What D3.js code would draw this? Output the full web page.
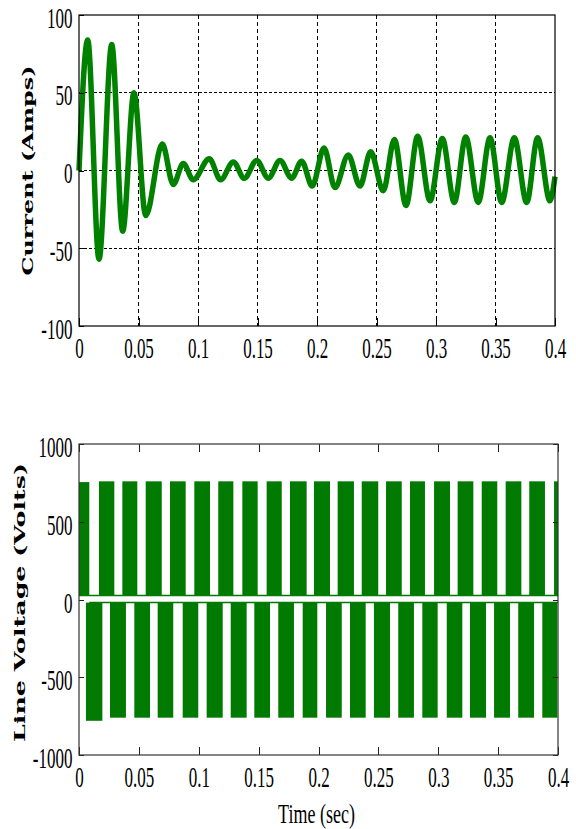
<!DOCTYPE html>
<html>
<head>
<meta charset="utf-8">
<script src="https://cdn.jsdelivr.net/npm/d3@7/dist/d3.min.js"></script>
<style>
  html, body { margin: 0; padding: 0; background: #fff; }
  svg { display: block; }
  .tick-label { font-family: "Liberation Serif", "Times New Roman", serif; font-size: 17px; fill: #000; }
  .axis-title { font-family: "DejaVu Serif", "Liberation Serif", serif; font-weight: bold; font-size: 14px; fill: #000; }
  .x-title { font-family: "Liberation Serif", "Times New Roman", serif; font-size: 18px; fill: #000; }
</style>
</head>
<body>
<svg id="chart" width="576" height="829"></svg>
<script>
// ---- Time axis (shared) ----
const timeTicks = [0, 0.05, 0.1, 0.15, 0.2, 0.25, 0.3, 0.35, 0.4];
const timeTickLabels = ["0", "0.05", "0.1", "0.15", "0.2", "0.25", "0.3", "0.35", "0.4"];

// ---- Current waveform: turning points (time in s, current in A) ----
const currentTime = [
  0, 0.0073, 0.0168, 0.0275, 0.0367, 0.0462, 0.0561, 0.0700, 0.0792, 0.0876,
  0.0960, 0.1095, 0.1190, 0.1297, 0.1389, 0.1493, 0.1591, 0.1689, 0.1787, 0.1871,
  0.1960, 0.2059, 0.2151, 0.2263, 0.2361, 0.2451, 0.2557, 0.2650, 0.2748, 0.2846,
  0.2950, 0.3053, 0.3154, 0.3250, 0.3355, 0.3454, 0.3552, 0.3658, 0.3762, 0.3854,
  0.3958, 0.4
];
const currentAmps = [
  0, 84, -57, 81, -39, 50, -29, 17, -9, 4.5,
  -6, 7.5, -6, 5.5, -5, 6.5, -5, 6.5, -5, 6,
  -10, 14.5, -11, 10, -10, 12, -13, 20, -22.5, 22,
  -19.5, 20.5, -20.5, 21.5, -20.5, 21, -20.5, 21, -20.5, 21,
  -19.5, -4
];
const currentTicks = [-100, -50, 0, 50, 100];
const currentTickLabels = ["-100", "-50", "0", "50", "100"];

// ---- Line voltage: switching envelopes (start/end time in s, level in V) ----
const posStart = [0, 0.0167, 0.0362, 0.0557, 0.0760, 0.0963, 0.1163, 0.1364, 0.1567, 0.1762,
  0.1962, 0.2160, 0.2361, 0.2564, 0.2764, 0.2965, 0.3162, 0.3363, 0.3563, 0.3760, 0.3967];
const posEnd = [0.0086, 0.0295, 0.0487, 0.0691, 0.0891, 0.1094, 0.1289, 0.1492, 0.1693, 0.1901,
  0.2096, 0.2296, 0.2499, 0.2695, 0.2889, 0.3098, 0.3293, 0.3493, 0.3694, 0.3891, 0.4];
const posPeak = [755, 760, 760, 760, 760, 760, 760, 760, 760, 760,
  760, 760, 760, 760, 760, 760, 760, 760, 760, 760, 760];
const negStart = [0.0058, 0.0259, 0.0462, 0.0657, 0.0866, 0.1066, 0.1267, 0.1464, 0.1664, 0.1868,
  0.2063, 0.2263, 0.2463, 0.2666, 0.2867, 0.3071, 0.3265, 0.3466, 0.3668, 0.3869];
const negEnd = [0.0195, 0.0392, 0.0593, 0.0787, 0.0996, 0.1200, 0.1400, 0.1595, 0.1795, 0.1990,
  0.2194, 0.2394, 0.2597, 0.2797, 0.2995, 0.3201, 0.3399, 0.3599, 0.3800, 0.3994];
const negPeak = [-780, -760, -760, -760, -760, -760, -760, -760, -760, -760,
  -760, -760, -760, -760, -760, -760, -760, -760, -760, -760];
const posBase = 25;   // low level of the positive switching band
const negBase = -20;  // high level of the negative switching band
const voltTicks = [-1000, -500, 0, 500, 1000];
const voltTickLabels = ["-1000", "-500", "0", "500", "1000"];

const svg = d3.select("#chart");
const GREEN_LINE = "#008200";
const GREEN_FILL = "#007a00";

// stretched serif tick text
function styleLabels(axisG, labels, opts) {
  axisG.selectAll(".tick text")
    .text((d, i) => labels[i])
    .attr("class", "tick-label")
    .attr("x", null).attr("y", null).attr("dy", null)
    .attr("text-anchor", opts.anchor)
    .attr("transform", `translate(${opts.dx},${opts.dy}) scale(1,1.7)`)
    .style("font-size", null).style("font-family", null);
}

function tidyAxis(axisG, stroke) {
  axisG.attr("font-size", null).attr("font-family", null);
  axisG.select(".domain").remove();
  axisG.selectAll(".tick line").attr("stroke", stroke).attr("stroke-width", 1)
    .attr("shape-rendering", "crispEdges");
}

// ================= Current plot =================
const p1 = { left: 79, right: 555, top: 15, bottom: 326 };
const x1 = d3.scaleLinear().domain([0, 0.4]).range([p1.left, p1.right]);
const y1 = d3.scaleLinear().domain([-100, 100]).range([p1.bottom, p1.top]);

const g1 = svg.append("g");
// grid
g1.append("g").selectAll("line").data(timeTicks.slice(1, -1)).join("line")
  .attr("x1", d => x1(d)).attr("x2", d => x1(d))
  .attr("y1", p1.top).attr("y2", p1.bottom)
  .attr("stroke", "#000").attr("stroke-width", 1).attr("stroke-dasharray", "4,3")
  .attr("shape-rendering", "crispEdges");
g1.append("g").selectAll("line").data(currentTicks.slice(1, -1)).join("line")
  .attr("x1", p1.left).attr("x2", p1.right)
  .attr("y1", d => y1(d)).attr("y2", d => y1(d))
  .attr("stroke", "#000").attr("stroke-width", 1).attr("stroke-dasharray", "3,2")
  .attr("shape-rendering", "crispEdges");

// trace
const currentData = currentTime.map((t, i) => ({ t, v: currentAmps[i] }));
g1.append("path").datum(currentData)
  .attr("d", d3.line().x(d => x1(d.t)).y(d => y1(d.v)).curve(d3.curveMonotoneX))
  .attr("fill", "none").attr("stroke", GREEN_LINE).attr("stroke-width", 5.5)
  .attr("stroke-linejoin", "round");

// axes
const ax1 = g1.append("g").attr("transform", `translate(0,${p1.bottom})`)
  .call(d3.axisBottom(x1).tickValues(timeTicks).tickSize(-8));
tidyAxis(ax1, "#000");
styleLabels(ax1, timeTickLabels, { anchor: "middle", dx: 0, dy: 32 });
const ay1 = g1.append("g").attr("transform", `translate(${p1.left},0)`)
  .call(d3.axisLeft(y1).tickValues(currentTicks).tickSize(-5));
tidyAxis(ay1, "#000");
styleLabels(ay1, currentTickLabels, { anchor: "end", dx: -6.5, dy: 12 });

g1.append("rect").attr("x", p1.left).attr("y", p1.top)
  .attr("width", p1.right - p1.left).attr("height", p1.bottom - p1.top)
  .attr("fill", "none").attr("stroke", "#000").attr("stroke-width", 1.2);

g1.append("text").attr("class", "axis-title")
  .attr("transform", `translate(33,${(p1.top + p1.bottom) / 2}) rotate(-90)`)
  .attr("text-anchor", "middle")
  .attr("textLength", 210).attr("lengthAdjust", "spacingAndGlyphs")
  .text("Current (Amps)");

// ================= Line voltage plot =================
const p2 = { left: 79, right: 558, top: 444, bottom: 755 };
const x2 = d3.scaleLinear().domain([0, 0.4]).range([p2.left, p2.right]);
const y2 = d3.scaleLinear().domain([-1000, 1000]).range([p2.bottom, p2.top]);

const g2 = svg.append("g");

// zero-level traces joining the switching bands
g2.append("line").attr("x1", x2(0)).attr("x2", x2(0.4))
  .attr("y1", y2(posBase)).attr("y2", y2(posBase))
  .attr("stroke", GREEN_FILL).attr("stroke-width", 1.5);
g2.append("line").attr("x1", x2(posEnd[0])).attr("x2", x2(0.4))
  .attr("y1", y2(negBase)).attr("y2", y2(negBase))
  .attr("stroke", GREEN_FILL).attr("stroke-width", 1.5);

const posBlocks = posStart.map((s, i) => ({ s, e: posEnd[i], hi: posPeak[i], lo: posBase }));
const negBlocks = negStart.map((s, i) => ({ s, e: negEnd[i], hi: negBase, lo: negPeak[i] }));
g2.append("g").selectAll("rect").data(posBlocks.concat(negBlocks)).join("rect")
  .attr("x", d => x2(d.s)).attr("width", d => x2(d.e) - x2(d.s))
  .attr("y", d => y2(d.hi)).attr("height", d => y2(d.lo) - y2(d.hi))
  .attr("fill", GREEN_FILL);

const ax2 = g2.append("g").attr("transform", `translate(0,${p2.bottom})`)
  .call(d3.axisBottom(x2).tickValues(timeTicks).tickSize(-8));
tidyAxis(ax2, "#222");
styleLabels(ax2, timeTickLabels, { anchor: "middle", dx: 0, dy: 32 });
const ax2top = g2.append("g").attr("transform", `translate(0,${p2.top})`)
  .call(d3.axisTop(x2).tickValues(timeTicks).tickSize(-8).tickFormat(""));
tidyAxis(ax2top, "#222");
const ay2 = g2.append("g").attr("transform", `translate(${p2.left},0)`)
  .call(d3.axisLeft(y2).tickValues(voltTicks).tickSize(-5));
tidyAxis(ay2, "#222");
styleLabels(ay2, voltTickLabels, { anchor: "end", dx: -6.5, dy: 12.7 });
const ay2r = g2.append("g").attr("transform", `translate(${p2.right},0)`)
  .call(d3.axisRight(y2).tickValues(voltTicks).tickSize(-5).tickFormat(""));
tidyAxis(ay2r, "#222");

g2.append("rect").attr("x", p2.left).attr("y", p2.top)
  .attr("width", p2.right - p2.left).attr("height", p2.bottom - p2.top)
  .attr("fill", "none").attr("stroke", "#333").attr("stroke-width", 1.2);

g2.append("text").attr("class", "axis-title")
  .attr("transform", `translate(25,${(p2.top + p2.bottom) / 2 + 3}) rotate(-90)`)
  .attr("text-anchor", "middle")
  .attr("textLength", 279).attr("lengthAdjust", "spacingAndGlyphs")
  .text("Line Voltage (Volts)");

g2.append("text").attr("class", "x-title")
  .attr("text-anchor", "middle")
  .attr("transform", `translate(316.5,823) scale(1,1.5)`)
  .text("Time (sec)");
</script>
</body>
</html>
